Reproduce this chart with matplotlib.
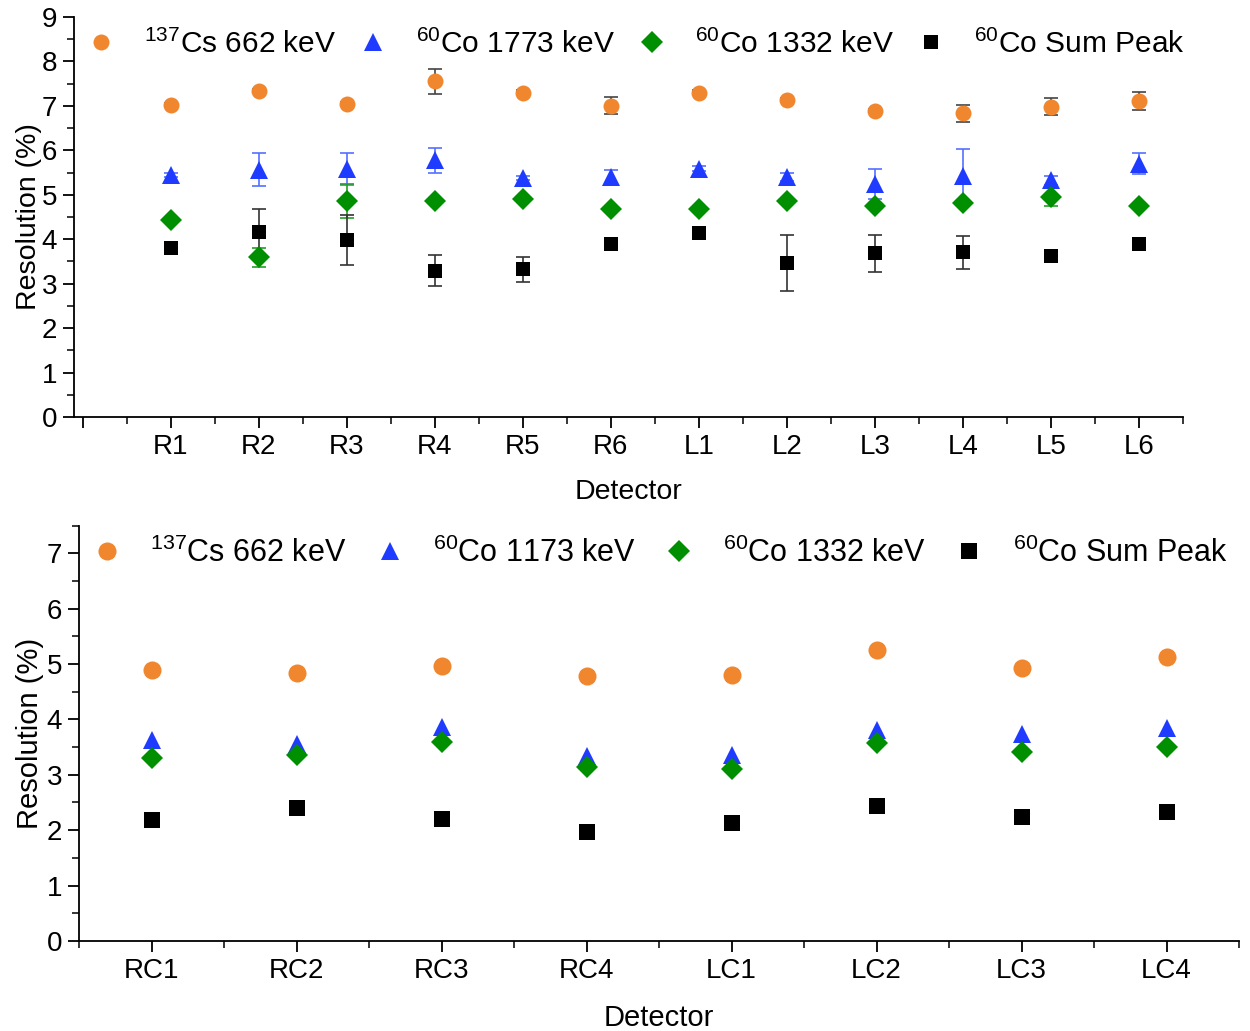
import matplotlib
matplotlib.use("Agg")
import matplotlib.pyplot as plt
from matplotlib.ticker import MultipleLocator, FixedLocator
import numpy as np

plt.rcParams['font.family'] = ['Liberation Sans', 'DejaVu Sans']
plt.rcParams['mathtext.fontset'] = 'custom'
plt.rcParams['mathtext.rm'] = 'Liberation Sans'

# ---------- data: top panel ----------
top_detectors = ["R1", "R2", "R3", "R4", "R5", "R6", "L1", "L2", "L3", "L4", "L5", "L6"]
top_cs662 = [7.02, 7.34, 7.04, 7.55, 7.30, 7.00, 7.30, 7.13, 6.89, 6.83, 6.98, 7.11]
top_cs662_err = [0.05, 0.05, 0.05, 0.29, 0.05, 0.19, 0.05, 0.05, 0.05, 0.19, 0.19, 0.21]
top_co1773 = [5.45, 5.56, 5.57, 5.78, 5.38, 5.40, 5.59, 5.40, 5.25, 5.43, 5.33, 5.70]
top_co1773_err = [0.05, 0.37, 0.36, 0.28, 0.05, 0.15, 0.05, 0.10, 0.34, 0.60, 0.10, 0.23]
top_co1332 = [4.43, 3.59, 4.86, 4.86, 4.90, 4.67, 4.68, 4.86, 4.75, 4.81, 4.96, 4.75]
top_co1332_err = [0.05, 0.21, 0.39, 0.05, 0.05, 0.05, 0.05, 0.05, 0.05, 0.05, 0.22, 0.05]
top_sum = [3.80, 4.16, 3.98, 3.29, 3.32, 3.90, 4.13, 3.47, 3.68, 3.71, 3.62, 3.89]
top_sum_err = [0.05, 0.52, 0.56, 0.35, 0.29, 0.05, 0.05, 0.63, 0.41, 0.37, 0.05, 0.05]

# ---------- data: bottom panel ----------
bot_detectors = ["RC1", "RC2", "RC3", "RC4", "LC1", "LC2", "LC3", "LC4"]
bot_cs662 = [4.90, 4.83, 4.97, 4.79, 4.80, 5.26, 4.93, 5.13]
bot_co1173 = [3.63, 3.56, 3.87, 3.34, 3.35, 3.80, 3.74, 3.85]
bot_co1332 = [3.31, 3.36, 3.60, 3.14, 3.10, 3.58, 3.42, 3.51]
bot_sum = [2.19, 2.40, 2.20, 1.97, 2.13, 2.44, 2.24, 2.33]

top_labels = [r"$^{137}$Cs 662 keV", r"$^{60}$Co 1773 keV", r"$^{60}$Co 1332 keV", r"$^{60}$Co Sum Peak"]
bot_labels = [r"$^{137}$Cs 662 keV", r"$^{60}$Co 1173 keV", r"$^{60}$Co 1332 keV", r"$^{60}$Co Sum Peak"]

ORANGE = "#F0862E"
BLUE = "#1F3BFF"
GREEN = "#008F00"
BLACK = "#000000"
ERRC = {ORANGE: "#444444", BLUE: "#5570FF", GREEN: "#22A022", BLACK: "#333333"}

TICK_FS = 20
LABEL_FS = 20.5

fig = plt.figure(figsize=(12.5, 10.31), dpi=100)

ax1 = fig.add_axes([0.0592, 0.5955, 0.8872, 0.388])
ax2 = fig.add_axes([0.0632, 0.0873, 0.9280, 0.4030])


def style(ax):
    for s in ["top", "right"]:
        ax.spines[s].set_visible(False)
    for s in ["left", "bottom"]:
        ax.spines[s].set_linewidth(1.3)
    ax.tick_params(axis="both", which="major", direction="out", length=8, width=1.3, labelsize=TICK_FS)
    ax.tick_params(axis="both", which="minor", direction="out", length=5, width=1.1)
    ax.tick_params(axis="y", pad=4)
    ax.tick_params(axis="x", pad=4)


series_top = [
    (top_cs662, top_cs662_err, "o", ORANGE, 11.5),
    (top_co1773, top_co1773_err, "^", BLUE, 13.5),
    (top_co1332, top_co1332_err, "D", GREEN, 11.5),
    (top_sum, top_sum_err, "s", BLACK, 10.5),
]

xt = np.arange(1, len(top_detectors) + 1)
handles = []
for (vals, errs, m, c, ms), lab in zip(series_top, top_labels):
    ax1.errorbar(xt, vals, yerr=errs, fmt="none", ecolor=ERRC[c], elinewidth=1.2, capsize=5, capthick=1.2, zorder=2)
    h, = ax1.plot(xt, vals, linestyle="none", marker=m, color=c, markersize=ms, markeredgewidth=0, label=lab, zorder=3)
    handles.append(h)

style(ax1)
ax1.set_xlim(-0.1, 12.5)
ax1.set_ylim(0, 9)
ax1.xaxis.set_major_locator(FixedLocator(np.arange(0, 13)))
ax1.set_xticklabels([""] + top_detectors)
ax1.xaxis.set_minor_locator(MultipleLocator(0.5))
ax1.yaxis.set_major_locator(MultipleLocator(1))
ax1.yaxis.set_minor_locator(MultipleLocator(0.5))
ax1.set_xlabel("Detector", fontsize=LABEL_FS, labelpad=14)
ax1.set_ylabel("Resolution (%)", fontsize=LABEL_FS, labelpad=0)
ax1.legend(handles=handles, loc="upper left", bbox_to_anchor=(0.0, 1.0), ncol=4, frameon=False,
           fontsize=21.5, handlelength=1.0, handletextpad=0.94, columnspacing=0.74, borderaxespad=0)

series_bot = [
    (bot_cs662, "o", ORANGE, 13),
    (bot_co1173, "^", BLUE, 13.5),
    (bot_co1332, "D", GREEN, 11.5),
    (bot_sum, "s", BLACK, 11),
]
xb = np.arange(1, len(bot_detectors) + 1)
handles2 = []
for (vals, m, c, ms), lab in zip(series_bot, bot_labels):
    h, = ax2.plot(xb, vals, linestyle="none", marker=m, color=c, markersize=ms, markeredgewidth=0, label=lab, zorder=3)
    handles2.append(h)

style(ax2)
ax2.set_xlim(0.5, 8.5)
ax2.set_ylim(0, 7.5)
ax2.xaxis.set_major_locator(FixedLocator(xb))
ax2.set_xticklabels(bot_detectors)
ax2.xaxis.set_minor_locator(MultipleLocator(0.5))
ax2.yaxis.set_major_locator(MultipleLocator(1))
ax2.yaxis.set_minor_locator(MultipleLocator(0.5))
ax2.set_xlabel("Detector", fontsize=21, labelpad=15)
ax2.set_ylabel("Resolution (%)", fontsize=21, labelpad=2)
ax2.legend(handles=handles2, loc="upper left", bbox_to_anchor=(0.0, 1.0), ncol=4, frameon=False,
           fontsize=22, handlelength=1.0, handletextpad=0.92, columnspacing=0.92, borderaxespad=0)

fig.savefig("out.png", dpi=100)
